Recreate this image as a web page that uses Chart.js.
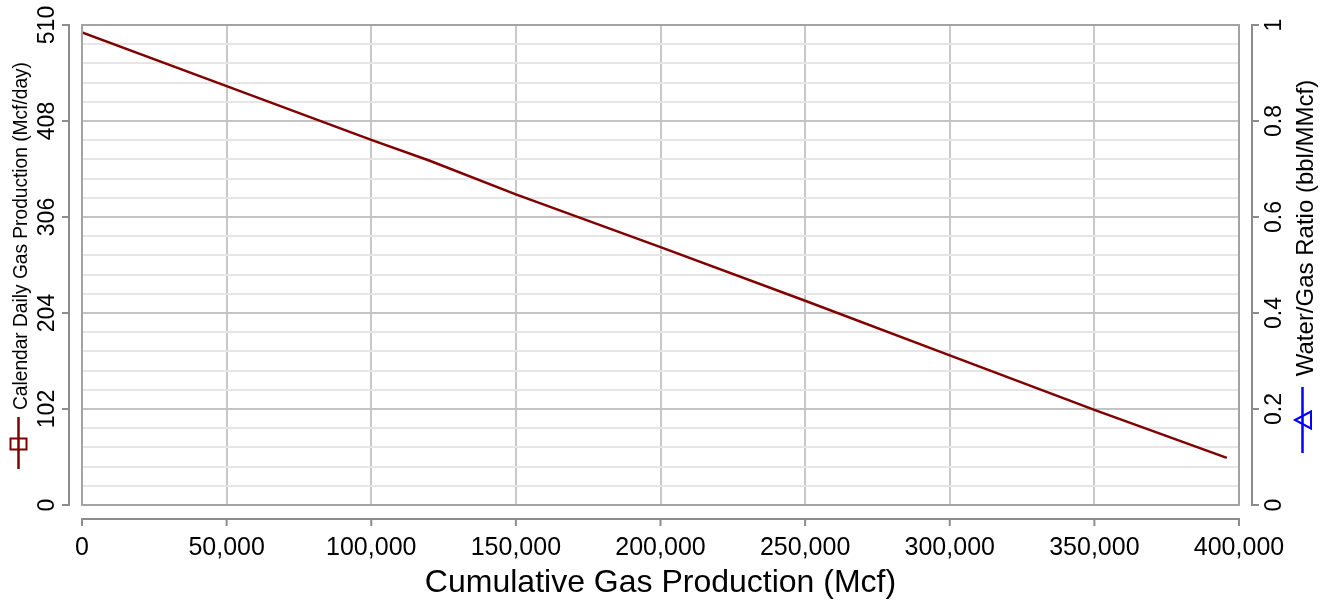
<!DOCTYPE html>
<html>
<head>
<meta charset="utf-8">
<script src="https://cdn.jsdelivr.net/npm/chart.js@4.4.1/dist/chart.umd.min.js"></script>
<style>
  html, body { margin: 0; padding: 0; background: #fff; }
  #wrap { width: 1332px; height: 604px; position: relative; }
</style>
</head>
<body>
<div id="wrap"><canvas id="gasChart"></canvas></div>
<script>
// cumulative gas (Mcf) against calendar daily gas rate (Mcf/day)
const cumGas = [0, 50000, 100000, 120000, 150000, 200000, 250000, 300000, 350000, 395800];
const dailyRate = [502, 445, 388, 366, 330, 274, 217, 159, 101, 50];
// no water/gas ratio readings for this well
const waterGasRatio = [];

const cumTicks = [0, 50000, 100000, 150000, 200000, 250000, 300000, 350000, 400000];
const rateTicks = [0, 102, 204, 306, 408, 510];
const ratioTicks = [0, 0.2, 0.4, 0.6, 0.8, 1];

const FONT = '"Liberation Sans", Arial, Helvetica, sans-serif';
const RATE_COLOR = '#800000';
const RATIO_COLOR = '#0000ff';

//..major rate ticks plus 4 minor lines in between
function rateGrid() {
    const out = [];
    for (let i = 0; i < rateTicks.length; i++) {
        out.push({ value: rateTicks[i], major: true });
        if (i < rateTicks.length - 1) {
            const step = (rateTicks[i + 1] - rateTicks[i]) / 5;
            for (let k = 1; k < 5; k++) out.push({ value: rateTicks[i] + step * k, major: false });
        }
    }
    return out;
}

//..fixed side widths, no extra label padding so the plot box stays put
function fixWidth(w) {
    return s => { s.width = w; s.paddingTop = 0; s.paddingBottom = 0; };
}

//..frame, detached axis lines and the rotated axis titles with series markers
const axisFrame = {
    id: 'axisFrame',
    afterDraw(chart) {
        const { ctx, chartArea: a, scales } = chart;
        ctx.save();

        ctx.strokeStyle = '#a3a3a3';
        ctx.lineWidth = 2;
        ctx.strokeRect(a.left, a.top, a.right - a.left, a.bottom - a.top);

        ctx.strokeStyle = '#8c8c8c';
        ctx.lineWidth = 2;
        ctx.beginPath();
        const lx = a.left - 13;
        ctx.moveTo(lx, a.top); ctx.lineTo(lx, a.bottom);
        rateTicks.forEach(v => {
            const py = scales.y.getPixelForValue(v);
            ctx.moveTo(lx + 1, py); ctx.lineTo(lx - 7, py);
        });
        const rx = a.right + 13;
        ctx.moveTo(rx, a.top); ctx.lineTo(rx, a.bottom);
        ratioTicks.forEach(v => {
            const py = scales.y1.getPixelForValue(v);
            ctx.moveTo(rx - 1, py); ctx.lineTo(rx + 7, py);
        });
        const by = a.bottom + 14;
        ctx.moveTo(a.left, by); ctx.lineTo(a.right, by);
        cumTicks.forEach(v => {
            const px = scales.x.getPixelForValue(v);
            ctx.moveTo(px, by - 1); ctx.lineTo(px, by + 7);
        });
        ctx.stroke();

        // left title + square marker
        ctx.fillStyle = '#000';
        ctx.textAlign = 'center';
        ctx.textBaseline = 'middle';
        ctx.save();
        ctx.translate(21, 236);
        ctx.rotate(-Math.PI / 2);
        ctx.font = '21px ' + FONT;
        ctx.fillText('Calendar Daily Gas Production (Mcf/day)', 0, 0, 348);
        ctx.restore();

        ctx.strokeStyle = RATE_COLOR;
        ctx.lineWidth = 2.5;
        ctx.beginPath();
        ctx.moveTo(18.5, 417); ctx.lineTo(18.5, 469);
        ctx.stroke();
        ctx.lineWidth = 2;
        ctx.strokeRect(10.5, 438.5, 16, 11);

        // right title + triangle marker
        ctx.save();
        ctx.translate(1306, 228);
        ctx.rotate(-Math.PI / 2);
        ctx.font = '24px ' + FONT;
        ctx.fillText('Water/Gas Ratio (bbl/MMcf)', 0, 0);
        ctx.restore();

        ctx.strokeStyle = RATIO_COLOR;
        ctx.lineWidth = 2.5;
        ctx.beginPath();
        ctx.moveTo(1302.5, 387); ctx.lineTo(1302.5, 453);
        ctx.stroke();
        ctx.lineWidth = 2;
        ctx.beginPath();
        ctx.moveTo(1295, 420); ctx.lineTo(1311, 411.5); ctx.lineTo(1311, 428.5); ctx.closePath();
        ctx.stroke();

        ctx.restore();
    }
};

new Chart(document.getElementById('gasChart'), {
    type: 'line',
    data: {
        datasets: [{
            label: 'Calendar Daily Gas Production',
            data: cumGas.map((x, i) => ({ x, y: dailyRate[i] })),
            borderColor: RATE_COLOR,
            borderWidth: 2.5,
            pointRadius: 0,
            tension: 0,
            yAxisID: 'y'
        }, {
            label: 'Water/Gas Ratio',
            data: waterGasRatio,
            borderColor: RATIO_COLOR,
            borderWidth: 2.5,
            pointRadius: 0,
            yAxisID: 'y1'
        }]
    },
    options: {
        responsive: true,
        maintainAspectRatio: false,
        animation: false,
        layout: { padding: { top: 25, left: 0, right: 0, bottom: 0 } },
        plugins: {
            legend: { display: false },
            tooltip: { enabled: false }
        },
        scales: {
            x: {
                type: 'linear',
                min: 0,
                max: 400000,
                afterBuildTicks: s => { s.ticks = cumTicks.map(v => ({ value: v })); },
                afterFit: s => { s.height = 99; },
                border: { display: false },
                grid: { color: '#c8c8c8', lineWidth: 2, drawTicks: false },
                ticks: {
                    padding: 28,
                    color: '#000',
                    font: { family: FONT, size: 25 },
                    maxRotation: 0,
                    autoSkip: false,
                    callback: v => v.toLocaleString('en-US')
                },
                title: {
                    display: true,
                    text: 'Cumulative Gas Production (Mcf)',
                    color: '#000',
                    font: { family: FONT, size: 32 },
                    padding: { top: 0, bottom: 2 }
                }
            },
            y: {
                position: 'left',
                min: 0,
                max: 510,
                afterBuildTicks: s => { s.ticks = rateGrid(); },
                afterFit: fixWidth(82),
                border: { display: false },
                grid: {
                    lineWidth: 2,
                    drawTicks: false,
                    color: c => (c.tick && c.tick.major) ? '#c4c4c4' : '#e6e6e6'
                },
                ticks: {
                    padding: 15,
                    color: '#000',
                    font: { family: FONT, size: 23 },
                    minRotation: 90,
                    maxRotation: 90,
                    crossAlign: 'center',
                    autoSkip: false,
                    callback: function (v, i, ticks) { return ticks[i].major ? String(v) : ''; }
                }
            },
            y1: {
                position: 'right',
                min: 0,
                max: 1,
                afterBuildTicks: s => { s.ticks = ratioTicks.map(v => ({ value: v })); },
                afterFit: fixWidth(93),
                border: { display: false },
                grid: { display: false, drawTicks: false },
                ticks: {
                    padding: 20,
                    color: '#000',
                    font: { family: FONT, size: 23 },
                    minRotation: 90,
                    maxRotation: 90,
                    crossAlign: 'center',
                    autoSkip: false,
                    callback: v => String(v)
                }
            }
        }
    },
    plugins: [axisFrame]
});
</script>
</body>
</html>
